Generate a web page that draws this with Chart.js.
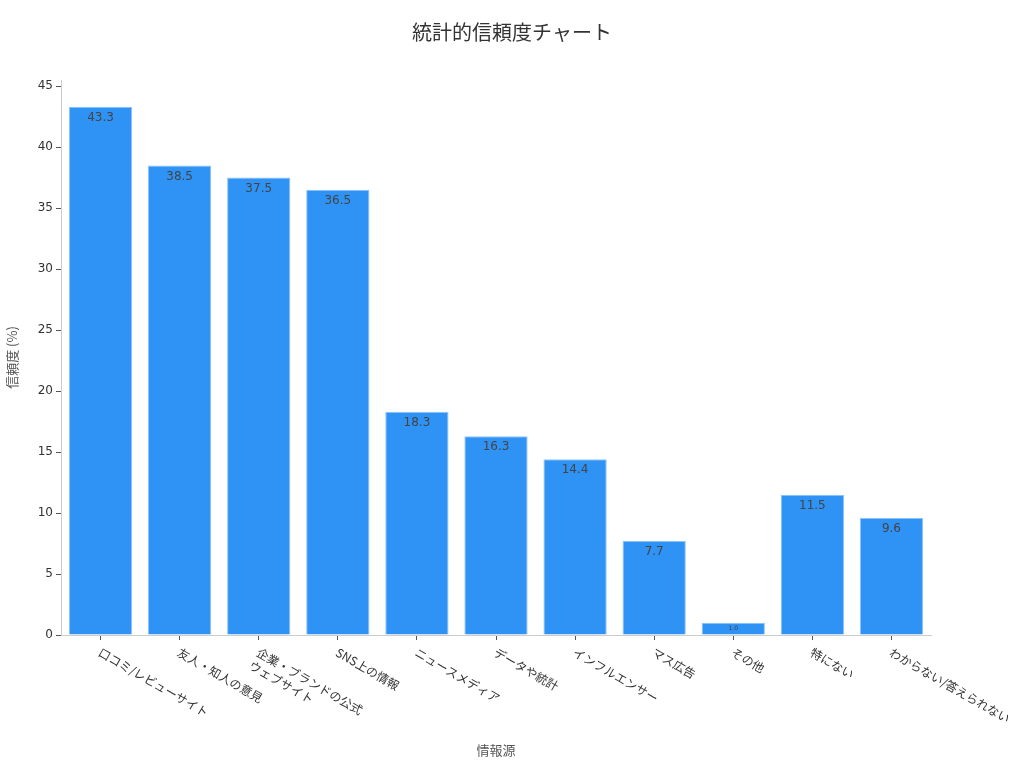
<!DOCTYPE html>
<html>
<head>
<meta charset="utf-8">
<script src="https://cdn.jsdelivr.net/npm/chart.js@4/dist/chart.umd.min.js"></script>
<style>
  html, body { margin: 0; padding: 0; background: #fff; }
  #wrap { width: 1024px; height: 768px; }
</style>
</head>
<body>
<div id="wrap"><canvas id="trustChart" width="1024" height="768"></canvas></div>
<script>
// data
const categories = [
  ['口コミ/レビューサイト'],
  ['友人・知人の意見'],
  ['企業・ブランドの公式', 'ウェブサイト'],
  ['SNS上の情報'],
  ['ニュースメディア'],
  ['データや統計'],
  ['インフルエンサー'],
  ['マス広告'],
  ['その他'],
  ['特にない'],
  ['わからない/答えられない']
];
const trustValues = [43.3, 38.5, 37.5, 36.5, 18.3, 16.3, 14.4, 7.7, 1.0, 11.5, 9.6];
const yTicks = [0, 5, 10, 15, 20, 25, 30, 35, 40, 45];
const chartTitle = '統計的信頼度チャート';

const FONT = "'DejaVu Sans', 'Noto Sans CJK JP', sans-serif";
const CJK = "'Noto Sans CJK JP', 'DejaVu Sans', sans-serif";

// title centred on the whole canvas
const pageTitle = {
  id: 'pageTitle',
  afterDraw(chart){
    const ctx = chart.ctx;
    ctx.save();
    ctx.fillStyle = '#333';
    ctx.font = '20px ' + CJK;
    ctx.textAlign = 'center';
    ctx.textBaseline = 'middle';
    ctx.fillText(chartTitle, chart.width / 2, 32);
    ctx.restore();
  }
};

// value labels inside the top of each bar
const barLabels = {
  id: 'barLabels',
  afterDatasetsDraw(chart){
    const ctx = chart.ctx;
    const meta = chart.getDatasetMeta(0);
    ctx.save();
    ctx.fillStyle = '#444';
    ctx.textAlign = 'center';
    ctx.textBaseline = 'top';
    meta.data.forEach((bar, i) => {
      const v = trustValues[i];
      const size = v < 2 ? 6 : 12;
      ctx.font = size + 'px ' + FONT;
      ctx.fillText(v.toFixed(1), bar.x, bar.y + (v < 2 ? 3 : 5));
    });
    ctx.restore();
  }
};

// slanted category labels that start at the tick and run down to the right
const slantLabels = {
  id: 'slantLabels',
  afterDraw(chart){
    const ctx = chart.ctx;
    const xs = chart.scales.x;
    ctx.save();
    ctx.fillStyle = '#333';
    ctx.font = '12px ' + CJK;
    ctx.textAlign = 'left';
    ctx.textBaseline = 'top';
    categories.forEach((lines, i) => {
      const x = xs.getPixelForTick(i);
      ctx.save();
      ctx.translate(x + 2, xs.top + 11);
      ctx.rotate(Math.PI / 6);
      lines.forEach((t, k) => ctx.fillText(t, 0, k * 15));
      ctx.restore();
    });
    ctx.restore();
  }
};

new Chart(document.getElementById('trustChart'), {
  type: 'bar',
  data: {
    labels: categories.map(c => c.join('')),
    datasets: [{
      label: '信頼度 (%)',
      data: trustValues,
      backgroundColor: '#2f92f5',
      borderColor: '#8cc4fa',
      borderWidth: 1,
      categoryPercentage: 0.8,
      barPercentage: 1.0
    }]
  },
  options: {
    responsive: false,
    animation: false,
    devicePixelRatio: 1,
    layout: { padding: { left: 0, right: 93, top: 80, bottom: 10 } },
    plugins: {
      legend: { display: false },
      tooltip: { enabled: false },
      title: { display: false }
    },
    scales: {
      x: {
        grid: { display: true, drawOnChartArea: false, offset: false, color: '#555', tickLength: 5 },
        border: { color: '#ccc' },
        ticks: { display: false },
        title: {
          display: true,
          text: '情報源',
          color: '#555',
          font: { family: CJK, size: 13 },
          padding: 0
        },
        afterFit(scale){ scale.height = 123; }
      },
      y: {
        min: 0,
        max: 45.5,
        grid: { display: true, drawOnChartArea: false, color: '#555', tickLength: 5 },
        border: { color: '#ccc' },
        ticks: { stepSize: 5, color: '#333', font: { family: FONT, size: 12 }, padding: 3 },
        afterBuildTicks(scale){
          scale.ticks = yTicks.map(v => ({ value: v }));
        },
        title: {
          display: true,
          text: '信頼度 (%)',
          color: '#555',
          font: { family: CJK, size: 13 },
          padding: 4
        },
        afterFit(scale){ scale.width = 61; }
      }
    }
  },
  plugins: [pageTitle, barLabels, slantLabels]
});
</script>
</body>
</html>
